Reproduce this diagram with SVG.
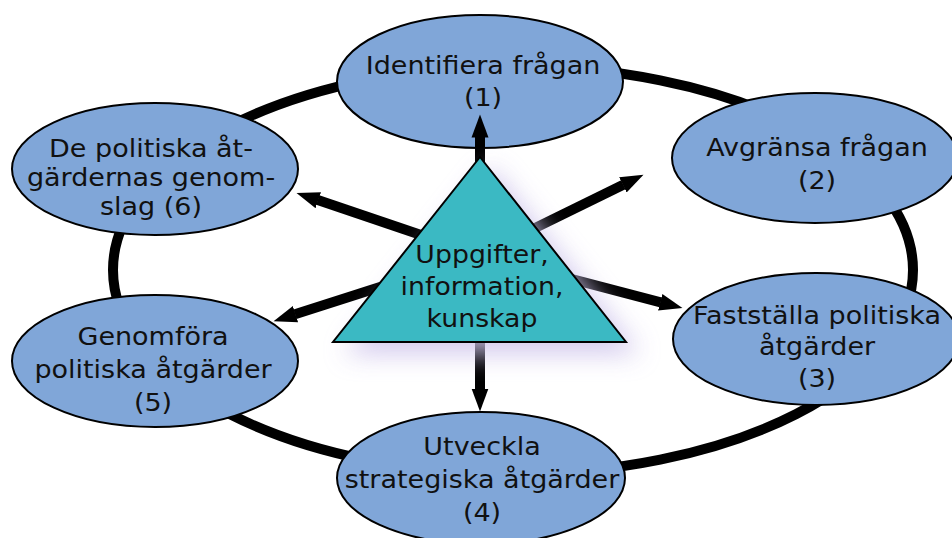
<svg xmlns="http://www.w3.org/2000/svg" width="952" height="538" viewBox="0 0 952 538">
<defs>
<style>
.node{fill:#80a6d8;stroke:#000;stroke-width:2}
.lbl{font-family:"DejaVu Sans","Verdana",sans-serif;font-size:25px;fill:#111;text-anchor:middle}
.tlbl{font-family:"DejaVu Sans","Verdana",sans-serif;font-size:25px;fill:#111;text-anchor:middle}
.arr{stroke:#000;stroke-width:10;fill:none;marker-end:url(#head)}
</style>
<marker id="head" markerUnits="userSpaceOnUse" markerWidth="30" markerHeight="24" viewBox="0 -12 30 24" refX="0.5" refY="0" orient="auto">
<path d="M0,-8.5 L23,0 L0,8.5 Z" fill="#000"/>
</marker>
<filter id="glow" x="-40%" y="-40%" width="180%" height="180%">
<feGaussianBlur stdDeviation="13"/>
</filter>
</defs>
<rect width="952" height="538" fill="#fff"/>
<ellipse id="ring" cx="513" cy="270" rx="400" ry="204" fill="none" stroke="#000" stroke-width="10"/>
<g id="n1"><ellipse class="node" cx="480" cy="81.5" rx="143" ry="66.5"/>
<g transform="translate(483,0) scale(1.08,1)"><text class="lbl" x="0" y="74">Identifiera frågan</text><text class="lbl" x="0" y="106">(1)</text></g></g>
<g id="n2"><ellipse class="node" cx="815" cy="158" rx="143" ry="65"/>
<g transform="translate(817,0) scale(1.08,1)"><text class="lbl" x="0" y="156">Avgränsa frågan</text><text class="lbl" x="0" y="189">(2)</text></g></g>
<g id="n3"><ellipse class="node" cx="816" cy="339" rx="143" ry="66"/>
<g transform="translate(817,0) scale(1.08,1)"><text class="lbl" x="0" y="324">Fastställa politiska</text><text class="lbl" x="0" y="355.5">åtgärder</text><text class="lbl" x="0" y="387">(3)</text></g></g>
<g id="n4"><ellipse class="node" cx="481" cy="478" rx="144" ry="66"/>
<g transform="translate(482,0) scale(1.08,1)"><text class="lbl" x="0" y="455">Utveckla</text><text class="lbl" x="0" y="488">strategiska åtgärder</text><text class="lbl" x="0" y="521">(4)</text></g></g>
<g id="n5"><ellipse class="node" cx="155" cy="361" rx="143" ry="66"/>
<g transform="translate(153,0) scale(1.08,1)"><text class="lbl" x="0" y="345">Genomföra</text><text class="lbl" x="0" y="378">politiska åtgärder</text><text class="lbl" x="0" y="411">(5)</text></g></g>
<g id="n6"><ellipse class="node" cx="155" cy="169" rx="143" ry="66"/>
<g transform="translate(151,0) scale(1.08,1)"><text class="lbl" x="0" y="157">De politiska åt-</text><text class="lbl" x="0" y="186">gärdernas genom-</text><text class="lbl" x="0" y="215">slag (6)</text></g></g>
<g id="connectors">
<line class="arr" x1="480" y1="255" x2="480" y2="137"/>
<line class="arr" x1="480" y1="255" x2="623.3" y2="184.7"/>
<line class="arr" x1="480" y1="255" x2="660.7" y2="302.4"/>
<line class="arr" x1="480" y1="255" x2="480" y2="389"/>
<line class="arr" x1="480" y1="255" x2="295" y2="314.3"/>
<line class="arr" x1="480" y1="255" x2="317.8" y2="200.1"/>
</g>
<g id="center">
<polygon points="491,167 344,354 640,354" fill="#cfc5ec" opacity="0.9" filter="url(#glow)"/>
<polygon points="480,157 333,342 626,342" fill="#3bb9c3" stroke="#000" stroke-width="2" stroke-linejoin="miter"/>
<g transform="translate(482,0) scale(1.07,1)"><text class="tlbl" x="0" y="263">Uppgifter,</text><text class="tlbl" x="0" y="295">information,</text><text class="tlbl" x="0" y="327">kunskap</text></g>
</g>
</svg>
